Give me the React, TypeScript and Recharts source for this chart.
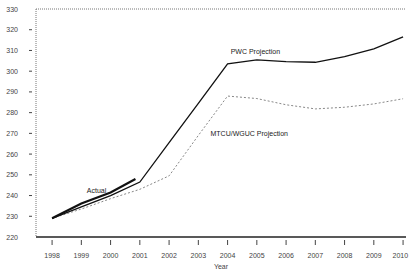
import React from "react";
import { LineChart, Line, XAxis, YAxis, ReferenceLine, ReferenceDot } from "recharts";

const years = [1998, 1999, 2000, 2001, 2002, 2003, 2004, 2005, 2006, 2007, 2008, 2009, 2010];
const pwcValues = [229, 234.5, 240, 246.5, 265.5, 284.5, 303.5, 305.5, 304.6, 304.3, 307, 310.8, 316.6];
const mtcuValues = [229, 233.5, 238.5, 243, 249.5, 269, 288, 286.8, 283.8, 281.8, 282.6, 284.2, 286.7];
const actualYears = [1998, 1999, 2000, 2000.85];
const actualValues = [229, 236.2, 241.5, 248];
const yTicks = [220, 230, 240, 250, 260, 270, 280, 290, 300, 310, 320, 330];

const data: any[] = years.map((year, i) => ({ year, pwc: pwcValues[i], mtcu: mtcuValues[i] }));
actualYears.forEach((y, j) => {
  const row = data.find((d) => d.year === y);
  if (row) row.actual = actualValues[j];
  else data.push({ year: y, actual: actualValues[j] });
});
data.sort((a, b) => a.year - b.year);

const FONT = "'Liberation Sans', Arial, sans-serif";

const XTick = (props: any) => {
  const { x, y, payload } = props;
  // last label sits at the right edge, keep it inside the picture
  const last = payload.value === years[years.length - 1];
  return (
    <g>
      <line x1={x} x2={x} y1={y} y2={y - 5} stroke="#444" strokeWidth={1} />
      <text x={last ? x + 5 : x} y={y + 13} textAnchor={last ? "end" : "middle"} fontSize={7} fill="#444" fontFamily={FONT}>
        {payload.value}
      </text>
    </g>
  );
};

const YTick = (props: any) => {
  const { x, y, payload } = props;
  return (
    <g>
      {payload.value !== 220 && payload.value !== 330 && (
        <line x1={x + 1} x2={x + 4} y1={y} y2={y} stroke="#444" strokeWidth={1} />
      )}
      <text x={x - 10} y={y + 2.5} textAnchor="end" fontSize={7} fill="#444" fontFamily={FONT}>
        {payload.value}
      </text>
    </g>
  );
};

export default function App() {
  return (
    <div style={{ position: "absolute", left: 0, top: 0, background: "#fff" }}>
      <LineChart width={409} height={271} data={data} margin={{ top: 9, right: 3, left: 0, bottom: 0 }}>
        <XAxis
          dataKey="year"
          type="number"
          domain={[1997.45, 2010.1]}
          ticks={years}
          interval={0}
          allowDataOverflow
          height={34}
          stroke="#222"
          strokeWidth={1.3}
          tickLine={false}
          tick={<XTick />}
          label={{ value: "Year", position: "insideBottom", offset: 2, fontSize: 7, fill: "#444", fontFamily: FONT }}
        />
        <YAxis
          type="number"
          domain={[220, 330]}
          ticks={yTicks}
          interval={0}
          width={36}
          stroke="#777"
          strokeDasharray="1 1"
          tickLine={false}
          tick={<YTick />}
        />
        <ReferenceLine y={330} stroke="#777" strokeDasharray="1 1" />
        <Line dataKey="mtcu" stroke="#888" strokeWidth={1} strokeDasharray="2 2" dot={false} connectNulls isAnimationActive={false} />
        <Line dataKey="pwc" stroke="#111" strokeWidth={1.3} dot={false} connectNulls isAnimationActive={false} />
        <Line dataKey="actual" stroke="#111" strokeWidth={2.2} dot={false} connectNulls isAnimationActive={false} />
        <ReferenceDot x={1999.52} y={242.6} r={0} stroke="none" label={{ value: "Actual", position: "center", fontSize: 7, fill: "#222", fontFamily: FONT }} />
        <ReferenceDot x={2004.95} y={309.4} r={0} stroke="none" label={{ value: "PWC Projection", position: "center", fontSize: 7, fill: "#222", fontFamily: FONT }} />
        <ReferenceDot x={2004.74} y={270} r={0} stroke="none" label={{ value: "MTCU/WGUC Projection", position: "center", fontSize: 7, fill: "#222", fontFamily: FONT }} />
      </LineChart>
    </div>
  );
}
